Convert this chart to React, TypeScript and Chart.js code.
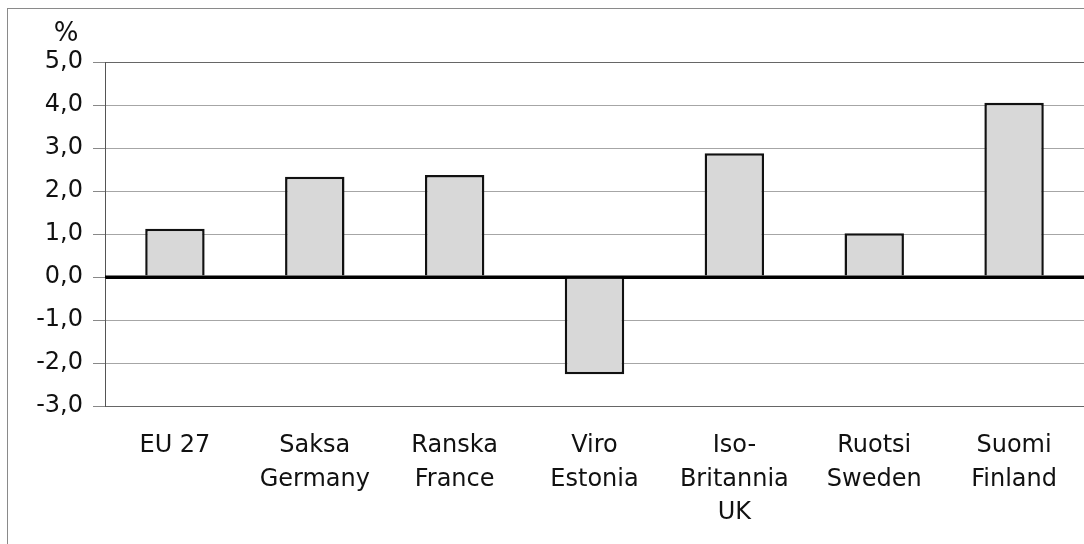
import React, { useEffect, useRef } from "react";
import { Chart, registerables } from "chart.js";

Chart.register(...registerables);

const categories: string[][] = [
  ["EU 27"],
  ["Saksa", "Germany"],
  ["Ranska", "France"],
  ["Viro", "Estonia"],
  ["Iso-", "Britannia", "UK"],
  ["Ruotsi", "Sweden"],
  ["Suomi", "Finland"],
];
const values: number[] = [1.12, 2.33, 2.37, -2.26, 2.88, 1.02, 4.05];
const yMin = -3;
const yMax = 5;
const yUnit = "%";

const FONT = "'DejaVu Sans', sans-serif";

const framePlugin = {
  id: "frame",
  beforeDraw(chart: any) {
    const { ctx, width, height } = chart;
    ctx.save();
    ctx.fillStyle = "#ffffff";
    ctx.fillRect(0, 0, width, height);
    ctx.strokeStyle = "#8a8a8a";
    ctx.lineWidth = 1;
    ctx.strokeRect(7.5, 8.5, width + 20, height + 20);
    ctx.restore();
  },
  afterDatasetsDraw(chart: any) {
    const { ctx, chartArea } = chart;
    const y = chart.scales.y.getPixelForValue(0);
    ctx.save();
    ctx.strokeStyle = "#000";
    ctx.lineWidth = 3;
    ctx.beginPath();
    ctx.moveTo(chartArea.left, y);
    ctx.lineTo(chartArea.right, y);
    ctx.stroke();
    ctx.restore();
  },
  afterDraw(chart: any) {
    const { ctx } = chart;
    ctx.save();
    ctx.fillStyle = "#111";
    ctx.font = `26px ${FONT}`;
    ctx.textAlign = "center";
    ctx.textBaseline = "middle";
    ctx.fillText(yUnit, 66, 34);
    ctx.restore();
  },
};

export default function App() {
  const ref = useRef<HTMLCanvasElement | null>(null);
  useEffect(() => {
    if (!ref.current) return;
    const chart = new Chart(ref.current, {
      type: "bar",
      data: {
        labels: categories,
        datasets: [
          {
            data: values,
            backgroundColor: "#d8d8d8",
            borderColor: "#111",
            borderWidth: 2.5,
            borderSkipped: "start",
            barPercentage: 0.425,
            categoryPercentage: 1,
          },
        ],
      },
      options: {
        responsive: false,
        animation: false,
        devicePixelRatio: 1,
        layout: { padding: { left: 0, right: 0, top: 62, bottom: 0 } },
        plugins: {
          legend: { display: false },
          tooltip: { enabled: false },
          title: { display: false },
        },
        scales: {
          x: {
            grid: { display: false, drawTicks: false },
            border: { display: false },
            ticks: {
              color: "#111",
              font: { family: FONT, size: 24, lineHeight: 1.4 },
              padding: 23,
              maxRotation: 0,
              autoSkip: false,
            },
            afterFit(scale: any) {
              scale.height = 138;
            },
          },
          y: {
            min: yMin,
            max: yMax,
            grid: {
              color: (c: any) => {
                const v = c.tick?.value;
                if (v === 0) return "#000";
                if (v === yMax || v === yMin) return "#666";
                return "#a6a6a6";
              },
              lineWidth: (c: any) => (c.tick?.value === 0 ? 3 : 1),
              tickColor: "#888",
              tickWidth: 1,
              tickLength: 12,
            },
            border: { display: true, color: "#555", width: 1 },
            ticks: {
              stepSize: 1,
              color: "#111",
              font: { family: FONT, size: 24 },
              padding: 10,
              callback: (v: any) => Number(v).toFixed(1).replace(".", ","),
            },
            afterFit(scale: any) {
              scale.width = 105;
            },
          },
        },
      },
      plugins: [framePlugin],
    });
    return () => chart.destroy();
  }, []);
  return (
    <div style={{ position: "fixed", left: 0, top: 0, width: 1084, height: 544, background: "#fff" }}>
      <canvas ref={ref} width={1084} height={544} style={{ display: "block" }} />
    </div>
  );
}
